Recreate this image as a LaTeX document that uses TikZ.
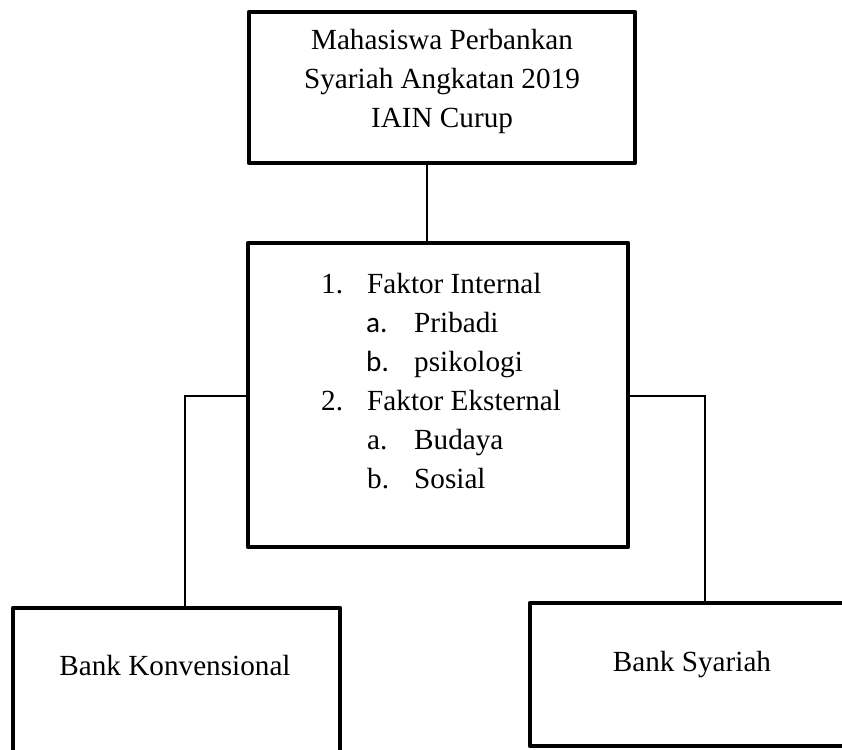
\documentclass[tikz,border=0pt]{standalone}
\usepackage{fontspec}
\setmainfont{Liberation Serif}
\newfontfamily\calib{Carlito}
\begin{document}
\begin{tikzpicture}[x=1pt,y=-1pt,
  boxst/.style={draw,line width=4.5pt,line join=round,inner sep=0pt,minimum width=#1},
  conn/.style={line width=1.6pt},
  txt/.style={inner sep=0pt,font=\fontsize{29.2}{35}\selectfont},
  lt/.style={txt,anchor=base west},
  ct/.style={txt,anchor=base}]
\useasboundingbox (0,0) rectangle (842,749);
\clip (0,0) rectangle (842,749);
% boxes
\node[boxst=386pt,minimum height=151pt] (top) at (442,87.5) {};
\node[boxst=380pt,minimum height=304pt] (mid) at (438,395) {};
\node[boxst=327pt,minimum height=160pt] (bl) at (176.5,688) {};
\node[boxst=330pt,minimum height=143pt] (br) at (695,674.5) {};
% connectors
\coordinate (c1) at (427,0);
\coordinate (lk) at (185,396);
\coordinate (rk) at (705,396);
\draw[conn] (top.south -| c1) -- (mid.north -| c1);
\draw[conn] (mid.west |- lk) -- (lk) -- (bl.north -| lk);
\draw[conn] (mid.east |- rk) -- (rk) -- (br.north -| rk);
% top text
\node[ct] (t1) at (442,50) {Mahasiswa Perbankan};
\node[ct] (t2) at (442,88.5) {Syariah Angkatan 2019};
\node[ct] (t3) at (442,127) {IAIN Curup};
% middle list
\node[lt] (n1) at (321,293) {1.};
\node[lt] (f1) at (367,293) {Faktor Internal};
\node[lt] (a1) at (366,332) {\calib a.};
\node[lt] (p1) at (414,332) {Pribadi};
\node[lt] (b1) at (366,371) {\calib b.};
\node[lt] (p2) at (414,371) {psikologi};
\node[lt] (n2) at (321,410) {2.};
\node[lt] (f2) at (367,410) {Faktor Eksternal};
\node[lt] (a2) at (367,449) {a.};
\node[lt] (p3) at (414,449) {Budaya};
\node[lt] (b2) at (367,488) {b.};
\node[lt] (p4) at (414,488) {Sosial};
% bottom texts
\node[ct] (k1) at (175,675) {Bank Konvensional};
\node[ct] (s1) at (692,671) {Bank Syariah};
\end{tikzpicture}
\end{document}
